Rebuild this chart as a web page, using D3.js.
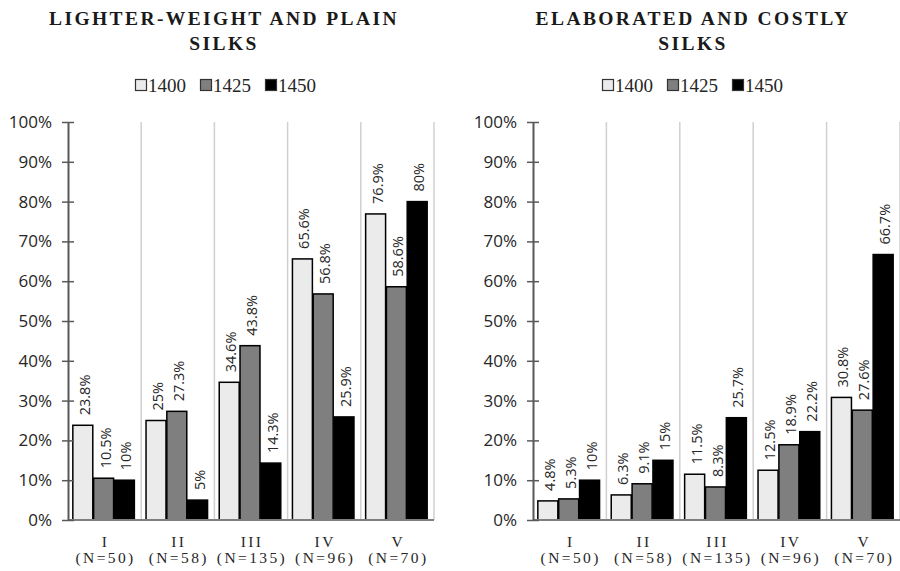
<!DOCTYPE html>
<html>
<head>
<meta charset="utf-8">
<script src="https://cdn.jsdelivr.net/npm/d3@7"></script>
<style>
  body { margin: 0; background: #fff; }
  svg { display: block; }
</style>
</head>
<body>
<div id="chart"></div>
<script>
// Categories, series and values
const categories = ["I", "II", "III", "IV", "V"];
const sampleSizes = ["(N=50)", "(N=58)", "(N=135)", "(N=96)", "(N=70)"];
const years = ["1400", "1425", "1450"];
const yTicks = [0, 10, 20, 30, 40, 50, 60, 70, 80, 90, 100];

// Lighter-weight and plain silks, one array per year
const plain1400 = [23.8, 25, 34.6, 65.6, 76.9];
const plain1425 = [10.5, 27.3, 43.8, 56.8, 58.6];
const plain1450 = [10, 5, 14.3, 25.9, 80];

// Elaborated and costly silks
const costly1400 = [4.8, 6.3, 11.5, 12.5, 30.8];
const costly1425 = [5.3, 9.1, 8.3, 18.9, 27.6];
const costly1450 = [10, 15, 25.7, 22.2, 66.7];

const W = 900, H = 571;
const svg = d3.select("#chart").append("svg")
    .attr("width", W)
    .attr("height", H);

const color = d3.scaleOrdinal()
    .domain(years)
    .range(["#ebebeb", "#7f7f7f", "#000000"]);

const y = d3.scaleLinear().domain([0, 100]).range([520, 122]);

function drawPanel(opts) {
    const { titleLines, titleX, legendX, left, right, series } = opts;

    // build rows for the grouped bars
    const rows = categories.map((c, i) => ({
        cat: c,
        n: sampleSizes[i],
        values: years.map((yr, k) => ({ year: yr, value: series[k][i] }))
    }));

    const x = d3.scaleBand()
        .domain(categories)
        .range([left, right])
        .paddingInner(0)
        .paddingOuter(0);

    const xSub = d3.scaleBand()
        .domain(years)
        .range([4, x.bandwidth() - 6])
        .padding(0.04);

    const g = svg.append("g");

    // Title
    const title = g.append("text")
        .attr("x", titleX)
        .attr("y", 25)
        .attr("text-anchor", "middle")
        .style("font-family", "'Liberation Serif', 'DejaVu Serif', serif")
        .style("font-weight", "bold")
        .style("font-size", "19.5px")
        .style("letter-spacing", "2.4px")
        .style("fill", "#1a1a1a");
    titleLines.forEach((t, i) => {
        title.append("tspan")
            .attr("x", titleX)
            .attr("dy", i === 0 ? 0 : 25)
            .text(t);
    });

    // Legend
    const legend = g.append("g");
    const itemW = 65;
    const legendStart = legendX - (itemW * years.length - 12) / 2;
    years.forEach((yr, i) => {
        const item = legend.append("g")
            .attr("transform", `translate(${legendStart + i * itemW}, 85)`);
        item.append("rect")
            .attr("x", 0)
            .attr("y", -5.5)
            .attr("width", 11)
            .attr("height", 11)
            .attr("fill", color(yr))
            .attr("stroke", "#333")
            .attr("stroke-width", 1.2);
        item.append("text")
            .attr("x", 12.5)
            .attr("y", 6.5)
            .style("font-family", "'Liberation Serif', serif")
            .style("font-size", "19px")
            .style("fill", "#262626")
            .text(yr);
    });

    // Vertical separators between categories
    const seps = categories.map(c => x(c) + x.bandwidth());
    g.selectAll("line.sep")
        .data(seps)
        .enter()
        .append("line")
        .attr("class", "sep")
        .attr("x1", d => d)
        .attr("x2", d => d)
        .attr("y1", y(100))
        .attr("y2", y(0))
        .attr("stroke", "#d0d0d0")
        .attr("stroke-width", 1.5);

    // Bars
    const groups = g.selectAll("g.cat")
        .data(rows)
        .enter()
        .append("g")
        .attr("class", "cat")
        .attr("transform", d => `translate(${x(d.cat)},0)`);

    groups.selectAll("rect")
        .data(d => d.values)
        .enter()
        .append("rect")
        .attr("x", d => xSub(d.year))
        .attr("y", d => y(d.value))
        .attr("width", xSub.bandwidth())
        .attr("height", d => y(0) - y(d.value))
        .attr("fill", d => color(d.year))
        .attr("stroke", "#000")
        .attr("stroke-width", 1.5);

    // Value labels, rotated
    groups.selectAll("text.val")
        .data(d => d.values)
        .enter()
        .append("text")
        .attr("class", "val")
        .attr("transform", d =>
            `translate(${xSub(d.year) + xSub.bandwidth() / 2 + 7},${y(d.value) - 10}) rotate(-90)`)
        .style("font-family", "'Open Sans', sans-serif")
        .style("font-size", "14.5px")
        .style("fill", "#262626")
        .text(d => d.value + "%");

    // X axis baseline
    g.append("line")
        .attr("x1", left)
        .attr("x2", right)
        .attr("y1", y(0))
        .attr("y2", y(0))
        .attr("stroke", "#7f7f7f")
        .attr("stroke-width", 2);

    // Category labels
    const catLabels = g.selectAll("text.cat")
        .data(rows)
        .enter()
        .append("text")
        .attr("class", "cat")
        .attr("text-anchor", "middle")
        .style("font-family", "'Liberation Serif', 'DejaVu Serif', serif")
        .style("font-size", "15.5px")
        .style("letter-spacing", "2.4px")
        .style("fill", "#262626");
    catLabels.append("tspan")
        .attr("x", d => x(d.cat) + x.bandwidth() / 2 + 1)
        .attr("y", 547)
        .text(d => d.cat);
    catLabels.append("tspan")
        .attr("x", d => x(d.cat) + x.bandwidth() / 2 + 1)
        .attr("y", 563)
        .text(d => d.n);

    // Y axis
    const yAxis = d3.axisLeft(y)
        .tickValues(yTicks)
        .tickFormat(d => d + "%")
        .tickSizeInner(6)
        .tickSizeOuter(0)
        .tickPadding(10);

    const ya = g.append("g")
        .attr("transform", `translate(${left},0)`)
        .call(yAxis);
    ya.select(".domain")
        .attr("stroke", "#595959")
        .attr("stroke-width", 2);
    ya.selectAll(".tick line")
        .attr("x1", -6)
        .attr("x2", 6)
        .attr("stroke", "#595959")
        .attr("stroke-width", 1.5);
    ya.selectAll(".tick text")
        .style("font-family", "'Open Sans', sans-serif")
        .style("font-size", "17px")
        .style("fill", "#262626");
}

drawPanel({
    titleLines: ["LIGHTER-WEIGHT AND PLAIN", "SILKS"],
    titleX: 224,
    legendX: 227,
    left: 68,
    right: 434,
    series: [plain1400, plain1425, plain1450]
});

drawPanel({
    titleLines: ["ELABORATED AND COSTLY", "SILKS"],
    titleX: 693,
    legendX: 694,
    left: 533,
    right: 900,
    series: [costly1400, costly1425, costly1450]
});
</script>
</body>
</html>
